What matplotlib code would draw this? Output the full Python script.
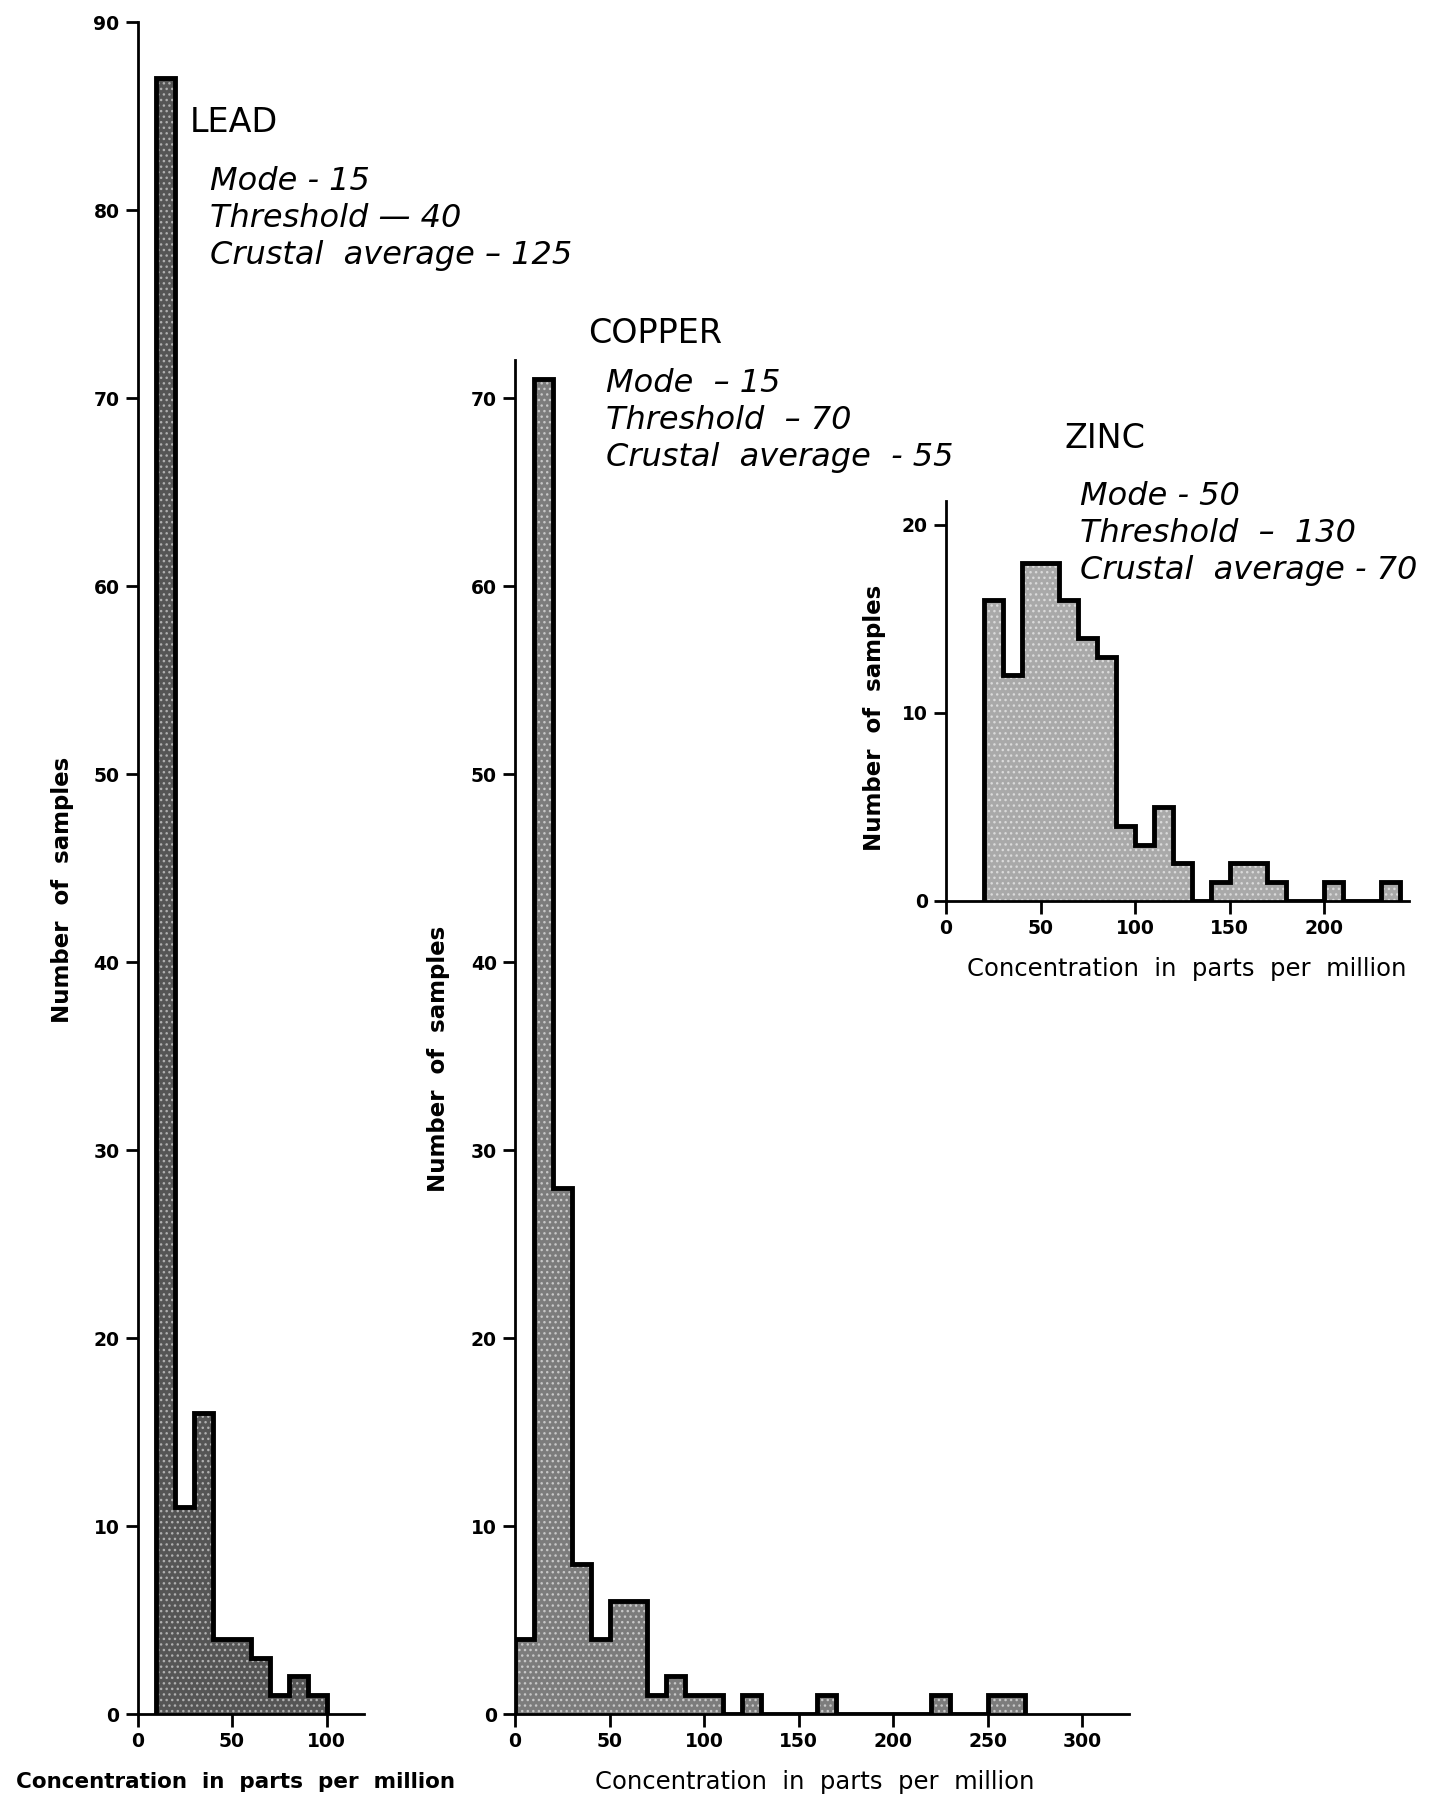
import matplotlib
matplotlib.use("Agg")
import matplotlib.pyplot as plt
import numpy as np

# histogram data, 10 ppm bins
lead_edges = [10, 20, 30, 40, 50, 60, 70, 80, 90, 100]
lead_counts = [87, 11, 16, 4, 4, 3, 1, 2, 1]

copper_edges = list(range(0, 280, 10))
copper_counts = [4, 71, 28, 8, 4, 6, 6, 1, 2, 1, 1, 0, 1, 0, 0, 0, 1,
                 0, 0, 0, 0, 0, 1, 0, 0, 1, 1]

zinc_edges = list(range(20, 250, 10))
zinc_counts = [16, 12, 18, 18, 16, 14, 13, 4, 3, 5, 2, 0, 1, 2, 2, 1,
               0, 0, 1, 0, 0, 1]

lead_text = ["Mode - 15", "Threshold \u2014 40", "Crustal  average \u2013 125"]
copper_text = ["Mode  \u2013 15", "Threshold  \u2013 70", "Crustal  average  - 55"]
zinc_text = ["Mode - 50", "Threshold  \u2013  130", "Crustal  average - 70"]

W, H = 1437, 1796
fig = plt.figure(figsize=(W / 100, H / 100), dpi=100)
plt.rcParams['hatch.linewidth'] = 1.0

PX_X = 1.89   # pixels per ppm
PX_Y = 18.8   # pixels per sample


def make_axes(x0, y0, xmax, ymax):
    # x0, y0 = pixel position of the origin (from top-left)
    w = xmax * PX_X
    h = ymax * PX_Y
    ax = fig.add_axes([x0 / W, 1 - y0 / H, w / W, h / H])
    ax.set_xlim(0, xmax)
    ax.set_ylim(0, ymax)
    for s in ['top', 'right']:
        ax.spines[s].set_visible(False)
    for s in ['left', 'bottom']:
        ax.spines[s].set_linewidth(2)
    ax.tick_params(direction='out', width=2, length=9, labelsize=13.5, pad=4)
    for lab in ax.get_xticklabels() + ax.get_yticklabels():
        lab.set_fontweight('bold')
    ax.patch.set_alpha(0)
    return ax


def draw_hist(ax, edges, counts, face, dots):
    ax.stairs(counts, edges, fill=True, facecolor=face, edgecolor=dots,
              linewidth=0, hatch='...', baseline=0, zorder=2)
    ax.stairs(counts, edges, fill=False, color='black', linewidth=3.5,
              baseline=0, zorder=3)


def fig_text(x, y, s, **kw):
    fig.text(x / W, 1 - y / H, s, **kw)


def bold_ticks(ax):
    for lab in ax.get_xticklabels() + ax.get_yticklabels():
        lab.set_fontweight('bold')


# LEAD
ax1 = make_axes(137.5, 1714, 120, 90)
draw_hist(ax1, lead_edges, lead_counts, '#555555', '#b0b0b0')
ax1.set_xticks([0, 50, 100])
ax1.set_yticks(range(0, 91, 10))
bold_ticks(ax1)

# COPPER
ax2 = make_axes(515, 1714, 325, 72)
draw_hist(ax2, copper_edges, copper_counts, '#7c7c7c', '#c8c8c8')
ax2.set_xticks(range(0, 301, 50))
ax2.set_yticks(range(0, 71, 10))
bold_ticks(ax2)

# ZINC
ax3 = make_axes(946, 901, 245, 21.3)
draw_hist(ax3, zinc_edges, zinc_counts, '#a9a9a9', '#dadada')
ax3.set_xticks(range(0, 201, 50))
ax3.set_yticks([0, 10, 20])
bold_ticks(ax3)

# titles and notes
fig_text(190, 132, "LEAD", fontsize=24, va='baseline')
fig_text(588, 343, "COPPER", fontsize=24, va='baseline')
fig_text(1064, 448, "ZINC", fontsize=24, va='baseline')

for i, s in enumerate(lead_text):
    fig_text(210, 190 + 37 * i, s, fontsize=23, style='italic', va='baseline')
for i, s in enumerate(copper_text):
    fig_text(606, 392 + 37 * i, s, fontsize=23, style='italic', va='baseline')
for i, s in enumerate(zinc_text):
    fig_text(1080, 505 + 37 * i, s, fontsize=23, style='italic', va='baseline')

# axis labels
fig_text(63, 890, "Number  of  samples", fontsize=16.5, rotation=90,
         ha='center', va='center', fontweight='bold')
fig_text(438, 1059, "Number  of  samples", fontsize=16.5, rotation=90,
         ha='center', va='center', fontweight='bold')
fig_text(874, 718, "Number  of  samples", fontsize=16.5, rotation=90,
         ha='center', va='center', fontweight='bold')

fig_text(236, 1782, "Concentration  in  parts  per  million", fontsize=15.5,
         fontweight='bold', ha='center', va='center')
fig_text(815, 1782, "Concentration  in  parts  per  million", fontsize=17.5,
         ha='center', va='center')
fig_text(1187, 969, "Concentration  in  parts  per  million", fontsize=17.5,
         ha='center', va='center')

fig.savefig("out.png", dpi=100, facecolor='white')
